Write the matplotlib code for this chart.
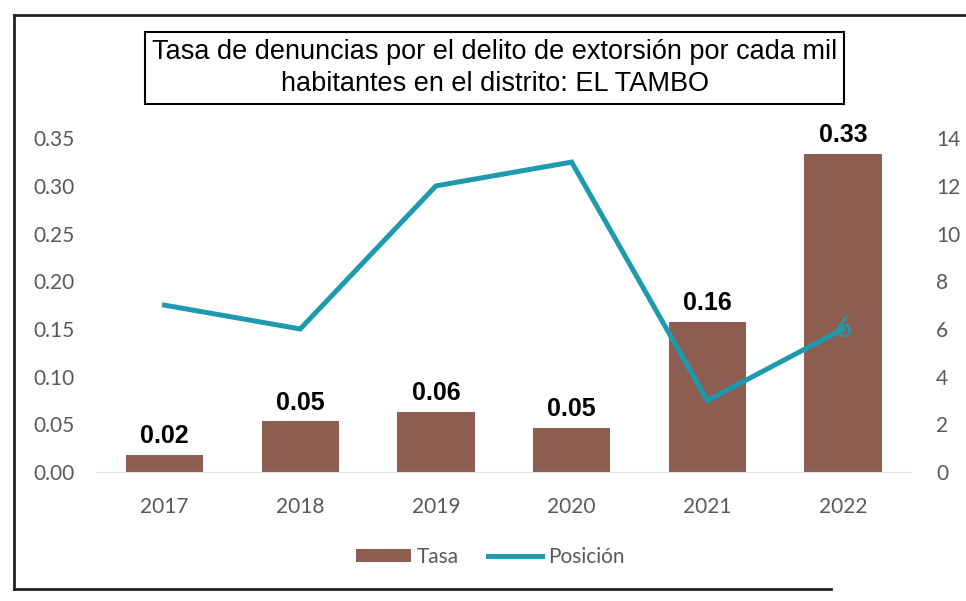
import matplotlib
matplotlib.use("Agg")
import matplotlib.pyplot as plt
from matplotlib.lines import Line2D
from matplotlib.patches import Patch

years = ["2017", "2018", "2019", "2020", "2021", "2022"]
tasa = [0.018, 0.053, 0.063, 0.046, 0.157, 0.333]
tasa_labels = ["0.02", "0.05", "0.06", "0.05", "0.16", "0.33"]
posicion = [7, 6, 12, 13, 3, 6]
left_ticks = [0.00, 0.05, 0.10, 0.15, 0.20, 0.25, 0.30, 0.35]
right_ticks = [0, 2, 4, 6, 8, 10, 12, 14]

BAR = "#8C5D50"
LINE = "#1E9AAE"
TICK = "#595959"

fig = plt.figure(figsize=(9.66, 6.01), dpi=100)
ax = fig.add_axes([0.100, 0.2146, 0.843, 0.5554])
ax2 = ax.twinx()

x = list(range(len(years)))
ax.bar(x, tasa, width=0.57, color=BAR, zorder=2)
ax.set_xlim(-0.5, len(years) - 0.5)
ax.set_ylim(0, 0.35)
ax.set_yticks(left_ticks)
ax.set_yticklabels([f"{v:.2f}" for v in left_ticks])
ax.set_xticks(x)
ax.set_xticklabels(years)

for xi, v, lab in zip(x, tasa, tasa_labels):
    ax.annotate(lab, (xi, v), xytext=(0, 5), textcoords="offset points",
                ha="center", va="bottom", fontsize=18, fontweight="bold",
                family="Liberation Sans", color="black", zorder=5)

ax2.plot(x, posicion, color=LINE, lw=3.6, solid_joinstyle="miter", zorder=3)
ax2.set_ylim(0, 14)
ax2.set_yticks(right_ticks)
ax2.set_yticklabels([str(v) for v in right_ticks])
ax2.text(x[-1], posicion[-1], str(posicion[-1]), ha="center", va="center",
         fontsize=20, family="Lato", color=LINE, zorder=6)

for a in (ax, ax2):
    for s in a.spines.values():
        s.set_visible(False)
    a.tick_params(length=0, labelsize=15, labelcolor=TICK)
    for lab in a.get_xticklabels() + a.get_yticklabels():
        lab.set_family("Lato")
ax.spines["bottom"].set_visible(True)
ax.spines["bottom"].set_color("#E4E4E4")
ax.tick_params(axis="y", pad=16)
ax.tick_params(axis="x", pad=18)
ax2.tick_params(axis="y", pad=18)

fig.text(0.512, 0.887,
         "Tasa de denuncias por el delito de extorsión por cada mil\nhabitantes en el distrito: EL TAMBO",
         ha="center", va="center", multialignment="center", fontsize=19.5,
         family="Liberation Sans", color="black", linespacing=1.3,
         bbox=dict(boxstyle="square,pad=0.25", fc="white", ec="black", lw=1.5))

handles = [Patch(facecolor=BAR, edgecolor="none", label="Tasa"),
           Line2D([0], [0], color=LINE, lw=3.6, label="Posición")]
leg = fig.legend(handles=handles, loc="center", bbox_to_anchor=(0.508, 0.073),
                 ncol=2, frameon=False, handlelength=2.6, handleheight=0.55,
                 handletextpad=0.3, columnspacing=1.4,
                 prop={"family": "Lato", "size": 15})
for t in leg.get_texts():
    t.set_color(TICK)

# outer frame of the scanned page
fig.add_artist(Line2D([0.014, 0.014], [0.02, 0.975], color="#222222", lw=2, transform=fig.transFigure))
fig.add_artist(Line2D([0.014, 1.0], [0.975, 0.975], color="#222222", lw=2, transform=fig.transFigure))
fig.add_artist(Line2D([0.014, 0.86], [0.02, 0.02], color="#222222", lw=2, transform=fig.transFigure))

fig.savefig("out.png", dpi=100, facecolor="white")
